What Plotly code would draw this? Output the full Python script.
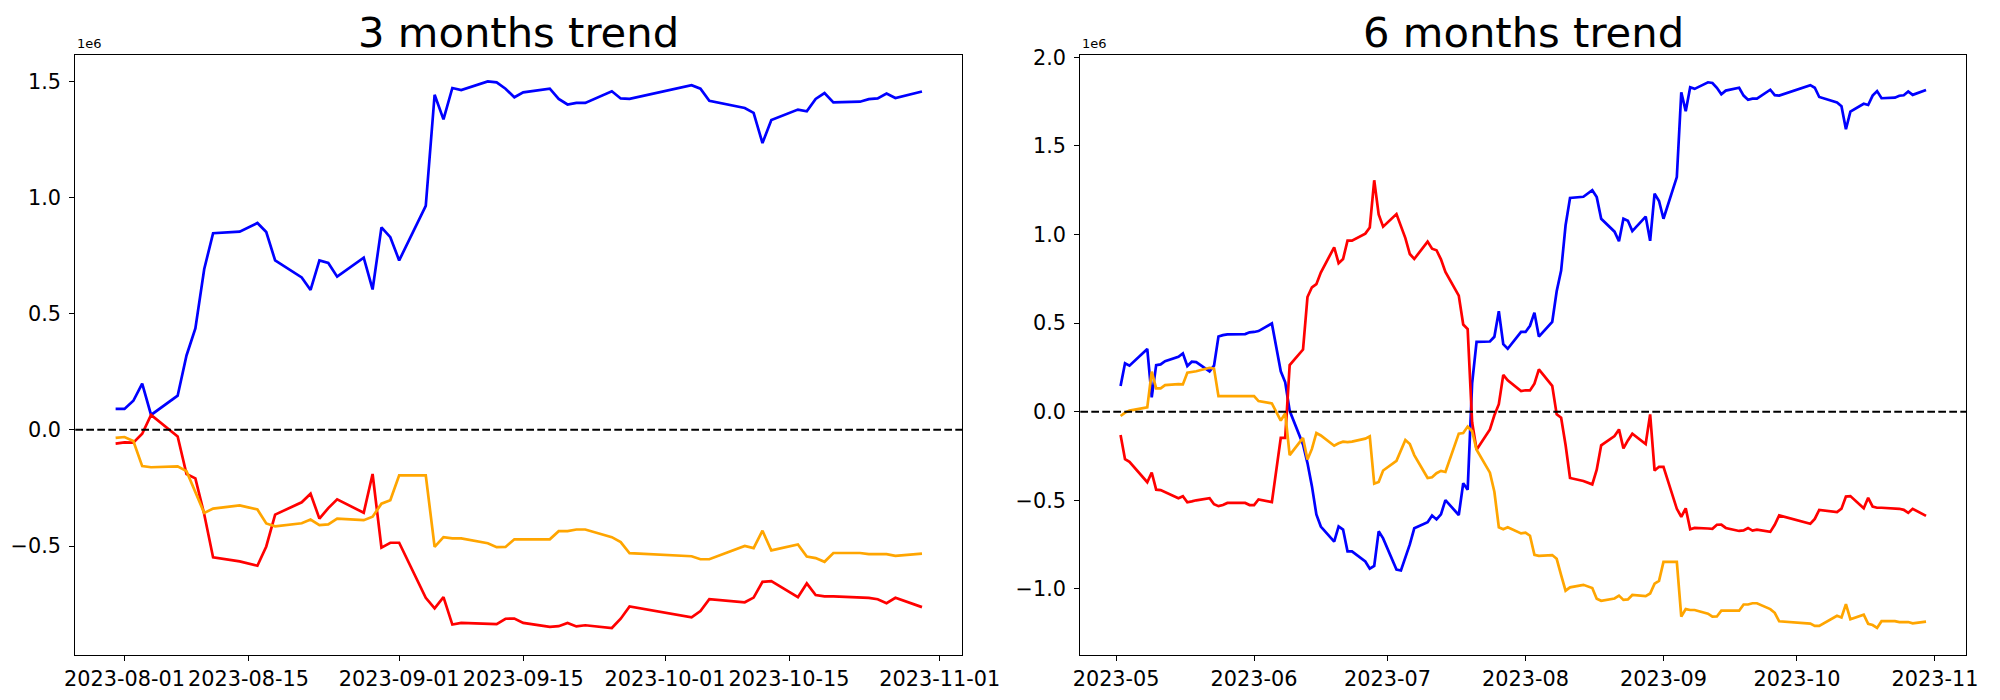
import plotly.graph_objects as go

# ---------------- 3 months data (values in units of 1e6) ----------------
dates_3m = ["2023-07-31","2023-08-01","2023-08-02","2023-08-03","2023-08-04","2023-08-07","2023-08-08","2023-08-09","2023-08-10","2023-08-11",
            "2023-08-14","2023-08-16","2023-08-17","2023-08-18","2023-08-21","2023-08-22","2023-08-23","2023-08-24","2023-08-25","2023-08-28",
            "2023-08-29","2023-08-30","2023-08-31","2023-09-01","2023-09-04","2023-09-05","2023-09-06","2023-09-07","2023-09-08","2023-09-11",
            "2023-09-12","2023-09-13","2023-09-14","2023-09-15","2023-09-18","2023-09-19","2023-09-20","2023-09-21","2023-09-22","2023-09-25",
            "2023-09-26","2023-09-27","2023-10-04","2023-10-05","2023-10-06","2023-10-10","2023-10-11","2023-10-12","2023-10-13","2023-10-16",
            "2023-10-17","2023-10-18","2023-10-19","2023-10-20","2023-10-23","2023-10-24","2023-10-25","2023-10-26","2023-10-27","2023-10-30"]

blue_3m = [0.090, 0.090, 0.125, 0.199, 0.064, 0.147, 0.320, 0.436, 0.692, 0.846,
           0.853, 0.890, 0.851, 0.729, 0.656, 0.602, 0.729, 0.718, 0.659, 0.741,
           0.604, 0.871, 0.829, 0.729, 0.964, 1.442, 1.336, 1.471, 1.462, 1.499,
           1.495, 1.468, 1.431, 1.452, 1.468, 1.424, 1.400, 1.407, 1.407, 1.457,
           1.426, 1.424, 1.483, 1.468, 1.416, 1.385, 1.364, 1.234, 1.333, 1.378,
           1.371, 1.424, 1.449, 1.409, 1.412, 1.423, 1.426, 1.447, 1.428, 1.456]

red_3m = [-0.059, -0.054, -0.055, -0.017, 0.064, -0.029, -0.190, -0.209, -0.363, -0.549,
          -0.566, -0.585, -0.502, -0.365, -0.312, -0.275, -0.382, -0.337, -0.299, -0.357,
          -0.190, -0.507, -0.486, -0.486, -0.723, -0.768, -0.720, -0.838, -0.831, -0.834,
          -0.836, -0.813, -0.812, -0.831, -0.848, -0.845, -0.831, -0.846, -0.841, -0.853,
          -0.813, -0.760, -0.807, -0.780, -0.729, -0.742, -0.722, -0.654, -0.651, -0.720,
          -0.661, -0.711, -0.717, -0.717, -0.720, -0.723, -0.729, -0.746, -0.723, -0.763]

orange_3m = [-0.035, -0.031, -0.048, -0.156, -0.161, -0.157, -0.178, -0.270, -0.358, -0.339,
             -0.325, -0.343, -0.403, -0.415, -0.402, -0.386, -0.410, -0.407, -0.382, -0.389,
             -0.374, -0.318, -0.303, -0.196, -0.196, -0.504, -0.462, -0.467, -0.467, -0.488,
             -0.505, -0.504, -0.471, -0.471, -0.471, -0.436, -0.436, -0.429, -0.429, -0.462,
             -0.483, -0.531, -0.544, -0.557, -0.557, -0.500, -0.509, -0.434, -0.519, -0.493,
             -0.545, -0.552, -0.568, -0.530, -0.530, -0.535, -0.535, -0.535, -0.542, -0.533]

# ---------------- 6 months data (values in units of 1e6) ----------------
dates_6m_early = ["2023-05-02","2023-05-03","2023-05-04","2023-05-08","2023-05-09","2023-05-10","2023-05-11","2023-05-12","2023-05-15","2023-05-16",
                  "2023-05-17","2023-05-18","2023-05-19","2023-05-22","2023-05-23","2023-05-24","2023-05-25","2023-05-26","2023-05-30","2023-05-31",
                  "2023-06-01","2023-06-02","2023-06-05","2023-06-07","2023-06-08","2023-06-09","2023-06-12","2023-06-13","2023-06-14","2023-06-15",
                  "2023-06-16","2023-06-19","2023-06-20","2023-06-21","2023-06-22","2023-06-23","2023-06-26","2023-06-27","2023-06-28","2023-06-29",
                  "2023-06-30","2023-07-03","2023-07-04","2023-07-05","2023-07-06","2023-07-07","2023-07-10","2023-07-11","2023-07-12","2023-07-13",
                  "2023-07-14","2023-07-17","2023-07-18","2023-07-19","2023-07-20","2023-07-21","2023-07-24","2023-07-25","2023-07-26","2023-07-27",
                  "2023-07-28"]

blue_6m_early = [0.145, 0.273, 0.260, 0.354, 0.081, 0.263, 0.267, 0.285, 0.310, 0.329,
                 0.258, 0.282, 0.280, 0.228, 0.260, 0.424, 0.432, 0.436, 0.438, 0.448,
                 0.450, 0.455, 0.498, 0.228, 0.166, 0.005, -0.185, -0.290, -0.420, -0.580,
                 -0.648, -0.733, -0.647, -0.665, -0.788, -0.788, -0.845, -0.886, -0.870, -0.675,
                 -0.715, -0.891, -0.896, -0.828, -0.749, -0.658, -0.624, -0.586, -0.608, -0.579,
                 -0.499, -0.583, -0.404, -0.440, 0.160, 0.394, 0.396, 0.423, 0.567, 0.381,
                 0.355]

red_6m_early = [-0.132, -0.268, -0.283, -0.398, -0.343, -0.440, -0.442, -0.454, -0.488, -0.477,
                -0.511, -0.506, -0.500, -0.488, -0.522, -0.533, -0.527, -0.515, -0.515, -0.527,
                -0.527, -0.495, -0.510, -0.148, -0.148, 0.263, 0.351, 0.647, 0.702, 0.720,
                0.785, 0.928, 0.838, 0.862, 0.965, 0.965, 1.005, 1.040, 1.306, 1.113,
                1.044, 1.115, 1.050, 0.980, 0.890, 0.862, 0.960, 0.920, 0.911, 0.860,
                0.789, 0.655, 0.492, 0.466, -0.060, -0.215, -0.100, -0.020, 0.042, 0.208,
                0.177]

orange_6m_early = [-0.024, -0.005, 0.006, 0.024, 0.226, 0.132, 0.132, 0.150, 0.156, 0.154,
                   0.220, 0.224, 0.228, 0.248, 0.243, 0.088, 0.088, 0.088, 0.088, 0.088,
                   0.088, 0.060, 0.047, -0.050, -0.010, -0.245, -0.148, -0.270, -0.210, -0.120,
                   -0.134, -0.192, -0.178, -0.169, -0.172, -0.169, -0.152, -0.139, -0.406, -0.396,
                   -0.332, -0.277, -0.220, -0.160, -0.182, -0.245, -0.374, -0.370, -0.347, -0.334,
                   -0.340, -0.124, -0.120, -0.084, -0.110, -0.215, -0.344, -0.452, -0.652, -0.663,
                   -0.652]

blue_6m_late = [0.450, 0.450, 0.485, 0.559, 0.424, 0.507, 0.680, 0.796, 1.052, 1.206,
                1.213, 1.250, 1.211, 1.089, 1.016, 0.962, 1.089, 1.078, 1.019, 1.101,
                0.964, 1.231, 1.189, 1.089, 1.324, 1.802, 1.696, 1.831, 1.822, 1.859,
                1.855, 1.828, 1.791, 1.812, 1.828, 1.784, 1.760, 1.767, 1.767, 1.817,
                1.786, 1.784, 1.843, 1.828, 1.776, 1.745, 1.724, 1.594, 1.693, 1.738,
                1.731, 1.784, 1.809, 1.769, 1.772, 1.783, 1.786, 1.807, 1.788, 1.816]

red_6m_late = [0.116, 0.121, 0.120, 0.158, 0.239, 0.146, -0.015, -0.034, -0.188, -0.374,
               -0.391, -0.410, -0.327, -0.190, -0.137, -0.100, -0.207, -0.162, -0.124, -0.182,
               -0.015, -0.332, -0.311, -0.311, -0.548, -0.593, -0.545, -0.663, -0.656, -0.659,
               -0.661, -0.638, -0.637, -0.656, -0.673, -0.670, -0.656, -0.671, -0.666, -0.678,
               -0.638, -0.585, -0.632, -0.605, -0.554, -0.567, -0.547, -0.479, -0.476, -0.545,
               -0.486, -0.536, -0.542, -0.542, -0.545, -0.548, -0.554, -0.571, -0.548, -0.588]

orange_6m_late = [-0.687, -0.683, -0.700, -0.808, -0.813, -0.809, -0.830, -0.922, -1.010, -0.991,
                  -0.977, -0.995, -1.055, -1.067, -1.054, -1.038, -1.062, -1.059, -1.034, -1.041,
                  -1.026, -0.970, -0.955, -0.848, -0.848, -1.156, -1.114, -1.119, -1.119, -1.140,
                  -1.157, -1.156, -1.123, -1.123, -1.123, -1.088, -1.088, -1.081, -1.081, -1.114,
                  -1.135, -1.183, -1.196, -1.209, -1.209, -1.152, -1.161, -1.086, -1.171, -1.145,
                  -1.197, -1.204, -1.220, -1.182, -1.182, -1.187, -1.187, -1.187, -1.194, -1.185]

dates_6m = dates_6m_early + dates_3m
blue_6m = blue_6m_early + blue_6m_late
red_6m = red_6m_early + red_6m_late
orange_6m = orange_6m_early + orange_6m_late

# ticks
xticks_3m = ["2023-08-01", "2023-08-15", "2023-09-01", "2023-09-15", "2023-10-01", "2023-10-15", "2023-11-01"]
xticks_6m = ["2023-05-01", "2023-06-01", "2023-07-01", "2023-08-01", "2023-09-01", "2023-10-01", "2023-11-01"]
xticklabels_6m = ["2023-05", "2023-06", "2023-07", "2023-08", "2023-09", "2023-10", "2023-11"]
yticks_3m = [-0.5, 0.0, 0.5, 1.0, 1.5]
yticks_6m = [-1.0, -0.5, 0.0, 0.5, 1.0, 1.5, 2.0]
titles = ["3 months trend", "6 months trend"]

COLORS = {"blue": "#0000ff", "red": "#ff0000", "orange": "#ffa500"}
FONT = "DejaVu Sans"

# page has an 8px body margin; size the figure so it fits the 2000x700 window exactly
OFF = 8
W, H = 2000 - 2 * OFF, 700 - 2 * OFF

def px_x(screen_x):
    return (screen_x - OFF) / W

def px_y(screen_y):
    return (H - (screen_y - OFF)) / H

fig = go.Figure()

def add_lines(dates, series, xa, ya):
    for name, vals in series:
        fig.add_trace(go.Scatter(x=dates, y=vals, mode="lines", name=name,
                                 line=dict(color=COLORS[name], width=2.7),
                                 xaxis=xa, yaxis=ya, showlegend=False))

add_lines(dates_3m, [("blue", blue_3m), ("red", red_3m), ("orange", orange_3m)], "x", "y")
add_lines(dates_6m, [("blue", blue_6m), ("red", red_6m), ("orange", orange_6m)], "x2", "y2")

def fmt(v):
    s = f"{v:.1f}"
    return s.replace("-", "\u2212")

top_px, bot_px = 55.0, 655.0
ydom = [px_y(bot_px), px_y(top_px)]
x1dom = [px_x(75.3), px_x(962.3)]
x2dom = [px_x(1080.3), px_x(1966.3)]

axis_common = dict(showgrid=False, zeroline=False, showline=True, linecolor="black", linewidth=1.1,
                   mirror=True, ticks="outside", ticklen=5, tickwidth=1.1, tickcolor="black",
                   automargin=False, tickangle=0,
                   tickfont=dict(family=FONT, size=20.8, color="black"))

fig.update_layout(
    width=W, height=H, margin=dict(l=0, r=0, t=0, b=0, autoexpand=False),
    paper_bgcolor="white", plot_bgcolor="white",
    xaxis=dict(domain=x1dom, anchor="y", type="date",
               range=["2023-07-26 10:48", "2023-11-03 13:12"],
               tickmode="array", tickvals=xticks_3m, ticktext=xticks_3m, **axis_common),
    yaxis=dict(domain=ydom, anchor="x", range=[-0.969, 1.613], ticklabelstandoff=4,
               tickmode="array", tickvals=yticks_3m, ticktext=[fmt(v) for v in yticks_3m], **axis_common),
    xaxis2=dict(domain=x2dom, anchor="y2", type="date",
                range=["2023-04-22 22:48", "2023-11-08 01:12"],
                tickmode="array", tickvals=xticks_6m, ticktext=xticklabels_6m, **axis_common),
    yaxis2=dict(domain=ydom, anchor="x2", range=[-1.373, 2.013], ticklabelstandoff=4,
                tickmode="array", tickvals=yticks_6m, ticktext=[fmt(v) for v in yticks_6m], **axis_common),
)

# dashed zero lines
for xr, yr in [("x domain", "y"), ("x2 domain", "y2")]:
    fig.add_shape(type="line", xref=xr, yref=yr, x0=0, x1=1, y0=0, y1=0,
                  line=dict(color="black", width=2, dash="7.7px,3.3px"))

# titles and offset text
for dom, title in [(x1dom, titles[0]), (x2dom, titles[1])]:
    fig.add_annotation(text=title, xref="paper", yref="paper", x=(dom[0] + dom[1]) / 2,
                       y=px_y(32), xanchor="center", yanchor="middle", showarrow=False,
                       font=dict(family=FONT, size=41.7, color="black"))
    fig.add_annotation(text="1e6", xref="paper", yref="paper", x=dom[0], y=px_y(top_px - 2),
                       xanchor="left", yanchor="bottom", showarrow=False,
                       font=dict(family=FONT, size=13, color="black"))

fig.write_html("out.html")
